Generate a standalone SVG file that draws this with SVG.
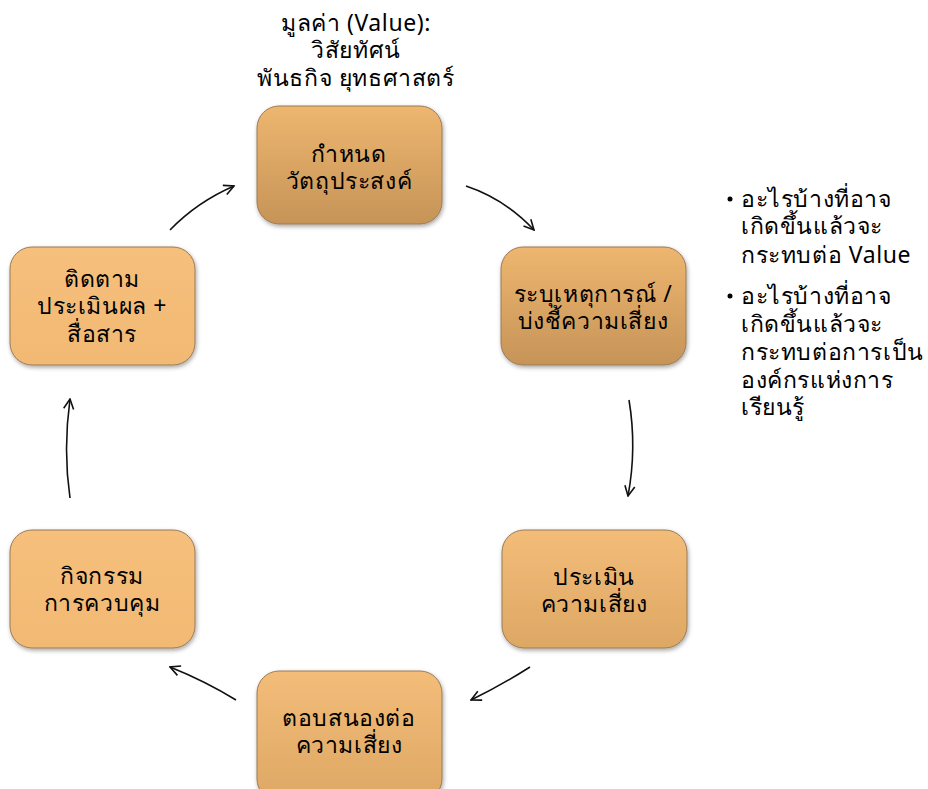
<svg xmlns="http://www.w3.org/2000/svg" width="928" height="789" viewBox="0 0 928 789">
<style>
text{font-family:"Noto Sans","DejaVu Sans",sans-serif;font-size:23px;letter-spacing:0.6px;fill:#000;text-anchor:middle}
.l{text-anchor:start}
.box{stroke:#9a7a55;stroke-width:1}
.arr{fill:none;stroke:#111;stroke-width:1.6;marker-end:url(#ah)}
</style>
<defs>
<linearGradient id="gDark" x1="0" y1="0" x2="0" y2="1"><stop offset="0" stop-color="#EEB66F"/><stop offset="1" stop-color="#C69458"/></linearGradient>
<linearGradient id="gMid" x1="0" y1="0" x2="0" y2="1"><stop offset="0" stop-color="#F3BC79"/><stop offset="1" stop-color="#DDA764"/></linearGradient>
<linearGradient id="gLight" x1="0" y1="0" x2="0" y2="1"><stop offset="0" stop-color="#F6BF7B"/><stop offset="1" stop-color="#F1B974"/></linearGradient>
<filter id="sh" x="-10%" y="-10%" width="125%" height="125%"><feDropShadow dx="1" dy="2" stdDeviation="2" flood-color="#000" flood-opacity="0.35"/></filter>
<marker id="ah" viewBox="0 0 12 12" refX="11" refY="6" markerWidth="12" markerHeight="12" markerUnits="userSpaceOnUse" orient="auto"><path d="M1,1 L11,6 L1,11" fill="none" stroke="#111" stroke-width="1.6"/></marker>
</defs>
<g id="title">
<text x="356" y="31">มูลค่า (Value):</text>
<text x="356" y="58">วิสัยทัศน์</text>
<text x="356" y="86">พันธกิจ ยุทธศาสตร์</text>
</g>
<g id="n1"><rect class="box" x="257" y="106" width="185" height="118" rx="22" fill="url(#gDark)" filter="url(#sh)"/>
<text x="349" y="162">กำหนด</text><text x="349" y="189">วัตถุประสงค์</text></g>
<g id="n2"><rect class="box" x="501" y="247" width="185" height="118" rx="22" fill="url(#gDark)" filter="url(#sh)"/>
<text x="593" y="302">ระบุเหตุการณ์ /</text><text x="593" y="329">บ่งชี้ความเสี่ยง</text></g>
<g id="n3"><rect class="box" x="502" y="530" width="185" height="118" rx="22" fill="url(#gMid)" filter="url(#sh)"/>
<text x="594" y="585">ประเมิน</text><text x="594" y="612">ความเสี่ยง</text></g>
<g id="n4"><rect class="box" x="257" y="671" width="185" height="130" rx="22" fill="url(#gMid)" filter="url(#sh)"/>
<text x="349" y="726">ตอบสนองต่อ</text><text x="349" y="753">ความเสี่ยง</text></g>
<g id="n5"><rect class="box" x="10" y="530" width="185" height="118" rx="22" fill="url(#gLight)" filter="url(#sh)"/>
<text x="102" y="584">กิจกรรม</text><text x="102" y="611">การควบคุม</text></g>
<g id="n6"><rect class="box" x="10" y="247" width="185" height="118" rx="22" fill="url(#gLight)" filter="url(#sh)"/>
<text x="102" y="287">ติดตาม</text><text x="102" y="314">ประเมินผล +</text><text x="102" y="342">สื่อสาร</text></g>
<g id="notes">
<circle cx="730" cy="199" r="2.5" fill="#000"/>
<text class="l" x="741" y="207">อะไรบ้างที่อาจ</text>
<text class="l" x="741" y="234">เกิดขึ้นแล้วจะ</text>
<text class="l" x="741" y="263">กระทบต่อ Value</text>
<circle cx="730" cy="296" r="2.5" fill="#000"/>
<text class="l" x="741" y="304">อะไรบ้างที่อาจ</text>
<text class="l" x="741" y="332">เกิดขึ้นแล้วจะ</text>
<text class="l" x="741" y="360">กระทบต่อการเป็น</text>
<text class="l" x="741" y="388">องค์กรแห่งการ</text>
<text class="l" x="741" y="415">เรียนรู้</text>
</g>
<g id="connectors">
<path class="arr" d="M466,186 Q505,199 534,230"/>
<path class="arr" d="M629,400 Q637,448 628,496"/>
<path class="arr" d="M530,667 Q500,686 471,700"/>
<path class="arr" d="M236,700 Q205,681 170,667"/>
<path class="arr" d="M70,498 Q63,450 70,399"/>
<path class="arr" d="M170,230 Q197,202 234,186"/>
</g>
</svg>
